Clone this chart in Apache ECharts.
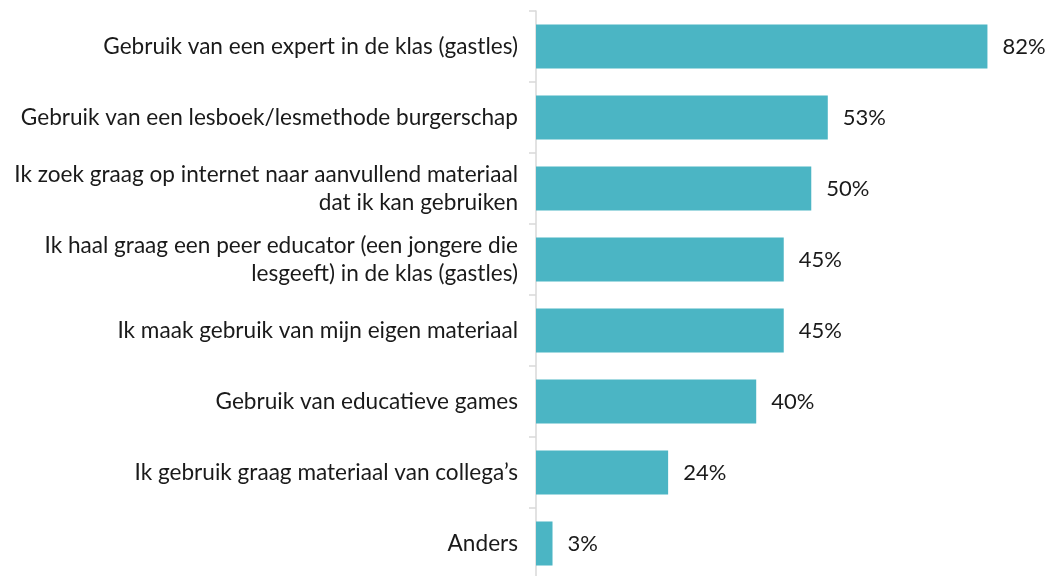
<!DOCTYPE html>
<html>
<head>
<meta charset="utf-8">
<script src="https://cdn.jsdelivr.net/npm/echarts@6/dist/echarts.min.js"></script>
<style>
  html, body { margin: 0; padding: 0; background: #fff; }
  #chart { width: 1048px; height: 576px; }
</style>
</head>
<body>
<div id="chart"></div>
<script>
  // categories from top to bottom
  const categories = [
    'Gebruik van een expert in de klas (gastles)',
    'Gebruik van een lesboek/lesmethode burgerschap',
    'Ik zoek graag op internet naar aanvullend materiaal\ndat ik kan gebruiken',
    'Ik haal graag een peer educator (een jongere die\nlesgeeft) in de klas (gastles)',
    'Ik maak gebruik van mijn eigen materiaal',
    'Gebruik van educatieve games',
    'Ik gebruik graag materiaal van collega\u2019s',
    'Anders'
  ]
  const values = [82, 53, 50, 45, 45, 40, 24, 3]

  const barColor = '#4BB5C4'
  const textColor = '#1a1a1a'
  const fontFamily = 'Lato, "Open Sans", sans-serif'

  const chart = echarts.init(document.getElementById('chart'))
  chart.setOption({
    animation: false,
    grid: {
      left: 536,
      top: 11,
      width: 512,
      height: 568,
      containLabel: false,
      outerBoundsMode: 'none'
    },
    xAxis: {
      type: 'value',
      min: 0,
      max: 93,
      show: false
    },
    yAxis: {
      type: 'category',
      inverse: true,
      data: categories,
      axisLine: {
        show: true,
        lineStyle: { color: '#D9D9D9', width: 1.5 }
      },
      axisTick: {
        show: true,
        length: 7,
        lineStyle: { color: '#D9D9D9', width: 1.5 }
      },
      axisLabel: {
        margin: 18,
        color: textColor,
        fontFamily: fontFamily,
        fontSize: 22.6,
        lineHeight: 28,
        align: 'right'
      }
    },
    series: [{
      type: 'bar',
      data: values,
      barWidth: '62%',
      itemStyle: { color: barColor },
      label: {
        show: true,
        position: 'right',
        distance: 15,
        formatter: '{c}%',
        color: textColor,
        fontFamily: fontFamily,
        fontSize: 22
      }
    }]
  })
</script>
</body>
</html>
